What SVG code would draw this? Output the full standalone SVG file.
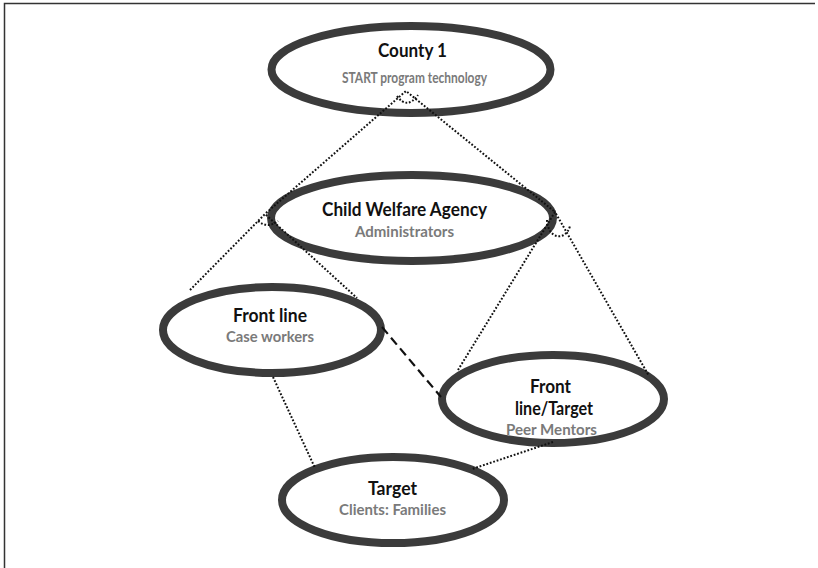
<svg xmlns="http://www.w3.org/2000/svg" width="818" height="568" viewBox="0 0 818 568">
<style>
.node ellipse{fill:#fff;stroke:#3b3b3b;stroke-width:8}
.t{font-family:Lato,"Liberation Sans",sans-serif;font-weight:bold;font-size:19px;fill:#111;text-anchor:middle}
.s{font-family:Lato,"Liberation Sans",sans-serif;font-weight:bold;font-size:16px;fill:#7a7a7a;text-anchor:middle}
.dot{fill:none;stroke:#111;stroke-width:2;stroke-dasharray:1.8 1.8}
.dash{fill:none;stroke:#111;stroke-width:2.2;stroke-dasharray:9 5}
</style>
<rect width="818" height="568" fill="#fff"/>
<path d="M4.5,568 V3.5 H815" fill="none" stroke="#333" stroke-width="1.5"/>
<g id="county1" class="node">
<ellipse cx="411" cy="69.5" rx="139.5" ry="43.5"/>
<text class="t" x="412.5" y="57" textLength="69" lengthAdjust="spacingAndGlyphs">County 1</text>
<text class="s" x="414.5" y="83" textLength="145" lengthAdjust="spacingAndGlyphs">START program technology</text>
</g>
<g id="child-welfare-agency" class="node">
<ellipse cx="412" cy="218" rx="141" ry="43"/>
<text class="t" x="404.5" y="216" textLength="165" lengthAdjust="spacingAndGlyphs">Child Welfare Agency</text>
<text class="s" x="404.5" y="237" textLength="99" lengthAdjust="spacingAndGlyphs">Administrators</text>
</g>
<g id="front-line" class="node">
<ellipse cx="272" cy="330" rx="109" ry="43"/>
<text class="t" x="270" y="322" textLength="74" lengthAdjust="spacingAndGlyphs">Front line</text>
<text class="s" x="270" y="342" textLength="88" lengthAdjust="spacingAndGlyphs">Case workers</text>
</g>
<g id="front-line-target" class="node">
<ellipse cx="553" cy="399" rx="111" ry="44"/>
<text class="t" x="550.5" y="393" textLength="41" lengthAdjust="spacingAndGlyphs">Front</text>
<text class="t" x="554" y="415" textLength="78" lengthAdjust="spacingAndGlyphs">line/Target</text>
<text class="s" x="551.5" y="435" textLength="91" lengthAdjust="spacingAndGlyphs">Peer Mentors</text>
</g>
<g id="target" class="node">
<ellipse cx="393" cy="500" rx="111" ry="43"/>
<text class="t" x="392.5" y="495" textLength="49" lengthAdjust="spacingAndGlyphs">Target</text>
<text class="s" x="392.5" y="515" textLength="107" lengthAdjust="spacingAndGlyphs">Clients: Families</text>
</g>
<g id="connectors">
<path class="dot" d="M266,213 L406,91 L555,212"/>
<path class="dot" d="M397,96 Q407,110 418,95"/>
<path class="dot" d="M190,290 L265,214 L357,298"/>
<path class="dot" d="M258,221 Q268,229 278,221"/>
<path class="dot" d="M458,370 L555,212 L649,376"/>
<path class="dot" d="M547,220 C548,240 566,241 570,226"/>
<path class="dot" d="M273,377 L315,468"/>
<path class="dot" d="M553,442 L472,469"/>
<path class="dash" d="M382,327 L441,397"/>
</g>
</svg>
